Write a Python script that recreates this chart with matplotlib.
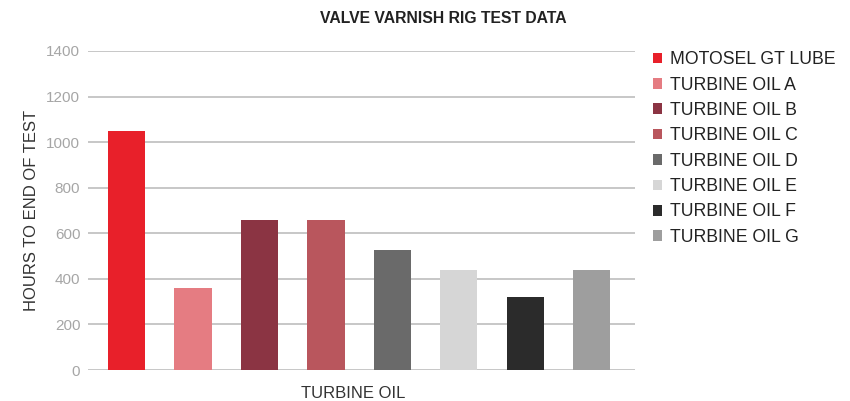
import matplotlib
matplotlib.use('Agg')
import matplotlib.pyplot as plt
from matplotlib.patches import Patch

plt.rcParams['font.family'] = ['Liberation Sans', 'DejaVu Sans']

oils = ['MOTOSEL GT LUBE', 'TURBINE OIL A', 'TURBINE OIL B', 'TURBINE OIL C',
        'TURBINE OIL D', 'TURBINE OIL E', 'TURBINE OIL F', 'TURBINE OIL G']
hours = [1050, 360, 660, 660, 525, 440, 320, 440]
colors = ['#E8202A', '#E57C82', '#8B3443', '#B9565D',
          '#6A6A6A', '#D6D6D6', '#2B2B2B', '#9E9E9E']
yticks = [0, 200, 400, 600, 800, 1000, 1200, 1400]

fig = plt.figure(figsize=(8.5, 4.01), dpi=100)
ax = fig.add_axes([0.1035, 0.0773, 0.6435, 0.7957])

x = list(range(len(oils)))
ax.bar(x, hours, width=0.56, color=colors, zorder=3)

ax.set_ylim(0, 1400)
ax.set_xlim(-0.58, 7.65)
ax.set_yticks(yticks)
ax.set_xticks([])
ax.yaxis.grid(True, color='#BDBDBD', linewidth=1.2, zorder=0)
ax.tick_params(axis='y', length=0, pad=5.5, labelsize=11, labelcolor='#A6A6A6')
for s in ax.spines.values():
    s.set_visible(False)

ax.set_ylabel('HOURS TO END OF TEST', fontsize=12, color='#333333')
ax.yaxis.set_label_coords(-0.09, 0.5)
ax.set_xlabel('TURBINE OIL', fontsize=12, color='#333333')
ax.xaxis.set_label_coords(0.484, -0.05)
fig.text(0.521, 0.955, 'VALVE VARNISH RIG TEST DATA', ha='center', va='center',
         fontsize=11.3, fontweight='bold', color='#222222')

handles = [Patch(facecolor=c, edgecolor='none') for c in colors]
leg = fig.legend(handles, oils, loc='upper left', bbox_to_anchor=(0.749, 0.912),
                 frameon=False, fontsize=12.7, handlelength=0.55, handleheight=0.55,
                 handletextpad=0.45, labelspacing=0.475, labelcolor='#222222')

plt.savefig('out.png', dpi=100)
